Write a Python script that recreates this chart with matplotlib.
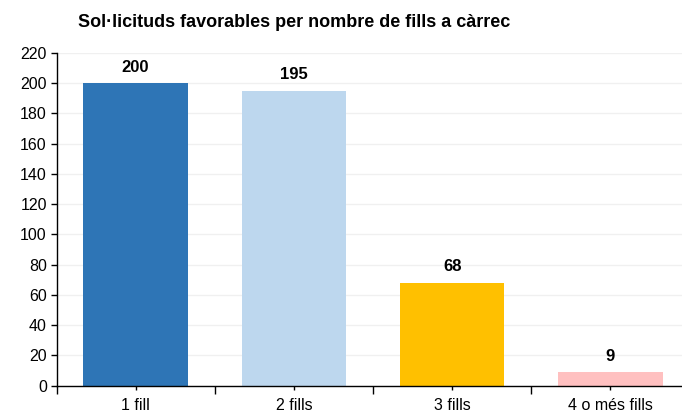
import matplotlib
matplotlib.use("Agg")
import matplotlib.pyplot as plt
from matplotlib.ticker import MultipleLocator, FixedLocator

categories = ["1 fill", "2 fills", "3 fills", "4 o més fills"]
values = [200, 195, 68, 9]
colors = ["#2E75B6", "#BDD7EE", "#FFC000", "#FFC0C0"]
title = "Sol·licituds favorables per nombre de fills a càrrec"

plt.rcParams['font.family'] = ['Liberation Sans', 'DejaVu Sans']

fig = plt.figure(figsize=(6.82, 4.16), dpi=100)
W, H = 682, 416
left, right, bottom, top = 56.5, 689.5, 385.5, 53
ax = fig.add_axes([left / W, (H - bottom) / H, (right - left) / W, (bottom - top) / H])

x = list(range(len(categories)))
ax.bar(x, values, width=0.66, color=colors, zorder=2)
for xi, v in zip(x, values):
    ax.annotate(str(v), (xi, v), xytext=(0, 6), textcoords="offset points",
                ha="center", va="bottom", fontsize=12, fontweight="bold", color="black")

ax.set_xlim(-0.5, len(categories) - 0.5)
ax.set_ylim(0, 220)
ax.yaxis.set_major_locator(MultipleLocator(20))
ax.grid(axis="y", color="#F0F0F0", linewidth=1, zorder=0)
ax.set_axisbelow(True)

ax.set_xticks(x)
ax.set_xticklabels(categories, fontsize=11.5)
ax.xaxis.set_minor_locator(FixedLocator([i - 0.5 for i in range(len(categories) + 1)]))
ax.tick_params(axis="x", which="major", length=3, width=1, color="black", pad=6)
ax.tick_params(axis="x", which="minor", length=6, width=1, color="black")
ax.tick_params(axis="y", length=4, width=1, labelsize=11.5, pad=3)

for s in ["top", "right"]:
    ax.spines[s].set_visible(False)
for s in ["left", "bottom"]:
    ax.spines[s].set_color("black")
    ax.spines[s].set_linewidth(1)

fig.text(78 / W, 1 - 27 / H, title, fontsize=13, fontweight="bold", ha="left", va="baseline")

fig.savefig("out.png", dpi=100, facecolor="white")
